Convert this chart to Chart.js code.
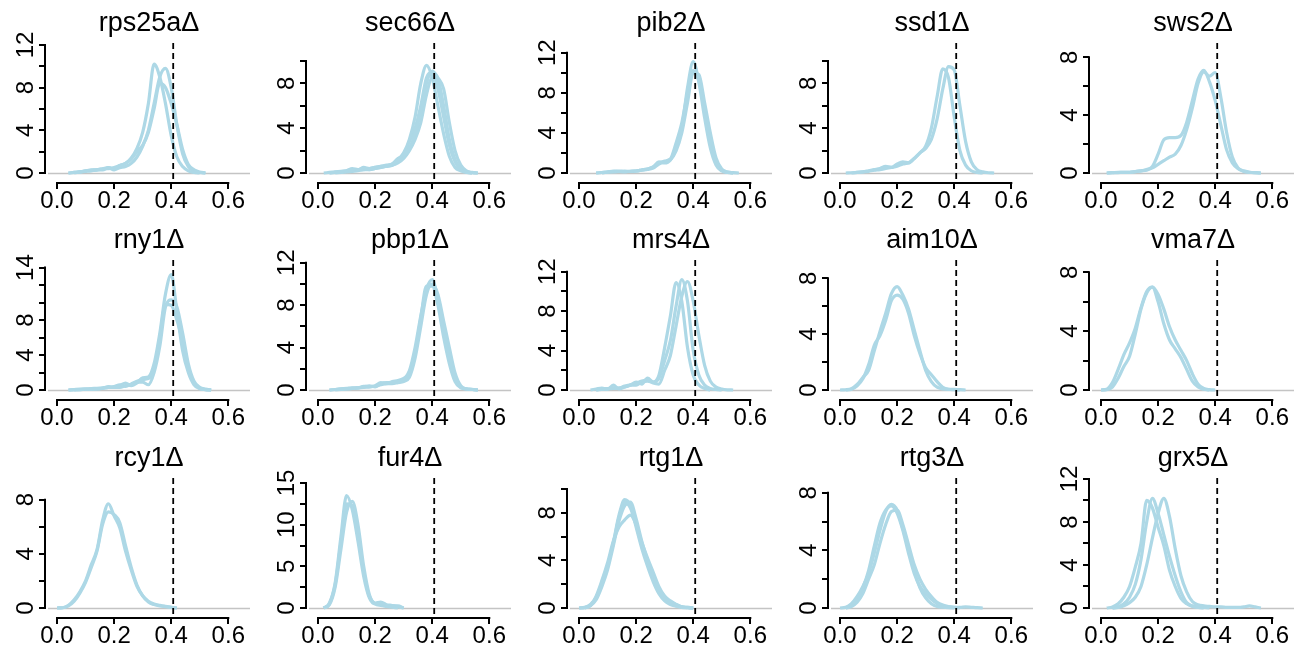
<!DOCTYPE html>
<html>
<head>
<meta charset="utf-8">
<script src="https://cdn.jsdelivr.net/npm/chart.js@4.4.1/dist/chart.umd.min.js"></script>
<style>
  html, body { margin: 0; padding: 0; background: #fff; overflow: hidden; }
  #wrap { position: relative; width: 1294px; height: 649px; }
  #wrap canvas { position: absolute; }
</style>
</head>
<body>
<div id="wrap"></div>
<script>
// panel names (deletion strains), row by row
const genes = ['rps25a', 'sec66', 'pib2', 'ssd1', 'sws2',
               'rny1', 'pbp1', 'mrs4', 'aim10', 'vma7',
               'rcy1', 'fur4', 'rtg1', 'rtg3', 'grx5'];

// density evaluated every 0.02 from 0.00 to 0.56
const xGrid = [0, 0.02, 0.04, 0.06, 0.08, 0.10, 0.12, 0.14, 0.16, 0.18, 0.20, 0.22, 0.24, 0.26,
               0.28, 0.30, 0.32, 0.34, 0.36, 0.38, 0.40, 0.42, 0.44, 0.46, 0.48, 0.50, 0.52, 0.54, 0.56];

const cutoff = 0.407;
const xTicks = [0, 0.2, 0.4, 0.6];

// y axis per panel
const yTop = [12.18, 11.6, 12.96, 11.6, 8.99, 14.87, 12.26, 13.18, 9.31, 8.84, 9.6, 15.6, 10.92, 9.03, 12.09];
const yTickMax = [12, 10, 12, 10, 8, 14, 12, 12, 8, 8, 8, 15, 10, 8, 12];
const yTickStep = [2, 2, 2, 2, 2, 2, 2, 2, 2, 2, 2, 2.5, 2, 2, 2];
const yLabels = [[0, 4, 8, 12], [0, 4, 8], [0, 4, 8, 12], [0, 4, 8], [0, 4, 8],
                 [0, 4, 8, 14], [0, 4, 8, 12], [0, 4, 8, 12], [0, 4, 8], [0, 4, 8],
                 [0, 4, 8], [0, 5, 10, 15], [0, 4, 8], [0, 4, 8], [0, 4, 8, 12]];

// replicate density curves, one array per replicate
const rps25a = [
  [null, null, 0, 0.05, 0.1, 0.2, 0.3, 0.3, 0.4, 0.5, 0.4, 0.7, 0.9, 1.4, 2.3, 3.8, 6.5, 10.2, 9.0, 6.5, 3.5, 1.5, 0.6, 0.2, 0.05, 0],
  [null, null, 0, 0.05, 0.1, 0.15, 0.2, 0.3, 0.3, 0.5, 0.3, 0.5, 0.6, 0.9, 1.5, 2.5, 4.0, 6.5, 9.0, 9.8, 8.0, 4.5, 1.8, 0.6, 0.2, 0.05, 0],
  [null, null, null, 0, 0.1, 0.2, 0.25, 0.3, 0.4, 0.4, 0.5, 0.7, 0.9, 1.3, 2.0, 2.6, 3.8, 6.0, 8.4, 8.0, 6.5, 4.5, 2.2, 0.8, 0.3, 0.1, 0]
];
const sec66 = [
  [null, 0, 0.05, 0.1, 0.15, 0.2, 0.4, 0.3, 0.5, 0.4, 0.5, 0.6, 0.7, 0.8, 1.2, 1.8, 3.0, 5.0, 8.0, 9.6, 8.5, 6.0, 3.5, 1.5, 0.5, 0.2, 0.05, 0],
  [null, null, 0, 0.05, 0.1, 0.15, 0.2, 0.3, 0.4, 0.3, 0.4, 0.5, 0.6, 0.7, 1.0, 1.5, 2.2, 3.5, 5.5, 8.0, 9.1, 8.5, 7.5, 4.5, 2.0, 0.7, 0.2, 0.05, 0],
  [null, null, 0, 0.05, 0.1, 0.2, 0.3, 0.3, 0.3, 0.4, 0.5, 0.6, 0.6, 0.8, 1.3, 1.6, 2.8, 4.0, 6.0, 8.5, 9.0, 7.5, 5.0, 2.5, 1.0, 0.3, 0.1, 0],
  [null, null, null, 0, 0.05, 0.1, 0.15, 0.2, 0.3, 0.3, 0.4, 0.5, 0.6, 0.7, 0.9, 1.3, 2.0, 3.0, 4.5, 7.0, 8.5, 8.3, 6.0, 3.0, 1.2, 0.4, 0.1, 0.03, 0]
];
const pib2 = [
  [null, null, null, 0, 0.05, 0.1, 0.2, 0.15, 0.1, 0.2, 0.2, 0.3, 0.4, 0.6, 1.1, 1.0, 1.3, 2.5, 4.5, 8.5, 11.1, 9.0, 5.5, 2.5, 0.8, 0.2, 0.05, 0],
  [null, null, null, null, 0, 0.1, 0.15, 0.2, 0.15, 0.15, 0.2, 0.3, 0.4, 0.6, 1.0, 1.2, 1.4, 3.0, 5.0, 8.0, 10.2, 9.2, 6.5, 3.5, 1.2, 0.3, 0.1, 0],
  [null, null, null, 0, 0.05, 0.1, 0.1, 0.15, 0.2, 0.15, 0.2, 0.3, 0.35, 0.5, 0.9, 1.1, 1.3, 2.2, 4.0, 7.0, 10.0, 9.8, 7.0, 4.0, 1.5, 0.4, 0.1, 0.03, 0]
];
const ssd1 = [
  [null, 0, 0.02, 0.05, 0.1, 0.2, 0.3, 0.4, 0.6, 0.5, 0.8, 1.0, 0.9, 1.3, 1.8, 2.4, 4.0, 6.8, 9.3, 8.5, 5.0, 2.0, 0.7, 0.2, 0.05, 0],
  [null, null, 0, 0.05, 0.1, 0.15, 0.25, 0.3, 0.4, 0.5, 0.6, 0.8, 0.9, 1.3, 1.8, 2.2, 3.0, 4.8, 7.5, 9.5, 9.2, 6.0, 2.8, 1.0, 0.3, 0.1, 0.02, 0]
];
const sws2 = [
  [null, 0, 0.02, 0.05, 0.05, 0.05, 0.1, 0.15, 0.25, 0.45, 1.3, 2.3, 2.45, 2.45, 2.6, 3.5, 5.0, 6.5, 7.1, 6.3, 5.0, 3.3, 1.6, 0.7, 0.3, 0.15, 0.05, 0.02, 0],
  [null, 0, 0.02, 0.03, 0.05, 0.05, 0.1, 0.15, 0.2, 0.35, 0.6, 0.85, 1.1, 1.3, 1.9, 3.0, 4.5, 6.2, 7.0, 6.7, 6.95, 5.2, 2.8, 1.1, 0.35, 0.1, 0.05, 0.02, 0]
];
const rny1 = [
  [null, null, 0, 0.05, 0.05, 0.1, 0.1, 0.15, 0.2, 0.3, 0.3, 0.5, 0.8, 0.5, 0.8, 1.4, 1.5, 3.0, 6.5, 11.0, 13.2, 9.0, 4.5, 2.0, 0.6, 0.15, 0.05, 0],
  [null, null, null, 0, 0.05, 0.1, 0.1, 0.1, 0.2, 0.4, 0.3, 0.3, 0.5, 0.6, 0.9, 0.9, 0.6, 2.0, 5.0, 9.5, 10.3, 9.5, 6.5, 3.0, 1.0, 0.3, 0.1, 0],
  [null, null, 0, 0.05, 0.1, 0.1, 0.15, 0.2, 0.25, 0.3, 0.4, 0.6, 0.4, 0.7, 1.0, 1.2, 1.3, 2.5, 6.0, 9.8, 9.7, 8.0, 5.5, 2.5, 0.8, 0.2, 0.05, 0]
];
const pbp1 = [
  [null, null, 0, 0.05, 0.1, 0.15, 0.2, 0.2, 0.3, 0.4, 0.3, 0.6, 0.7, 0.7, 0.8, 1.0, 1.8, 4.0, 7.0, 9.5, 10.4, 8.5, 5.5, 3.2, 1.2, 0.3, 0.1, 0.05, 0],
  [null, null, null, 0, 0.05, 0.1, 0.15, 0.2, 0.25, 0.3, 0.35, 0.5, 0.6, 0.6, 0.7, 0.8, 1.2, 3.0, 6.0, 9.0, 10.0, 9.0, 6.5, 4.0, 1.6, 0.4, 0.1, 0.05, 0],
  [null, null, 0, 0.05, 0.1, 0.1, 0.15, 0.2, 0.35, 0.3, 0.4, 0.7, 0.6, 0.8, 0.9, 1.1, 1.5, 3.5, 6.8, 9.8, 9.8, 8.0, 5.0, 2.5, 0.8, 0.2, 0.1, 0.05, 0]
];
const mrs4 = [
  [null, null, 0, 0.1, 0.2, 0.05, 0.5, 0.1, 0.3, 0.5, 0.8, 0.6, 1.2, 0.8, 1.5, 4.3, 7.5, 10.9, 9.0, 4.3, 1.5, 0.5, 0.15, 0],
  [null, null, null, 0, 0.1, 0.15, 0.2, 0.2, 0.4, 0.5, 0.5, 0.8, 0.9, 0.8, 1.2, 3.0, 5.0, 8.5, 11.2, 9.0, 4.0, 1.5, 0.5, 0.15, 0.05, 0],
  [null, null, null, 0, 0.05, 0.1, 0.15, 0.2, 0.3, 0.5, 0.7, 0.9, 1.0, 0.7, 0.6, 2.0, 3.5, 6.5, 9.5, 11.0, 9.0, 5.5, 2.5, 0.9, 0.3, 0.1, 0.02, 0]
];
const aim10 = [
  [0, 0.02, 0.1, 0.4, 0.9, 1.4, 2.8, 4.2, 5.5, 6.9, 7.4, 6.8, 5.8, 4.3, 2.8, 1.4, 0.6, 0.2, 0.08, 0.05, 0.05, 0.02, 0],
  [null, 0, 0.05, 0.3, 0.8, 1.8, 3.2, 3.9, 5.0, 6.4, 6.8, 6.5, 5.5, 3.9, 2.6, 1.6, 1.1, 0.6, 0.2, 0.05, 0.02, 0]
];
const vma7 = [
  [0, 0.05, 0.5, 1.4, 2.4, 3.2, 4.2, 5.6, 6.7, 7.0, 6.0, 4.5, 3.4, 2.8, 2.2, 1.4, 0.6, 0.2, 0.05, 0],
  [0, 0.02, 0.2, 0.8, 1.6, 2.3, 3.8, 5.5, 6.6, 7.0, 6.5, 5.5, 4.3, 3.4, 2.7, 2.0, 1.1, 0.4, 0.1, 0.02, 0]
];
const rcy1 = [
  [0, 0.02, 0.2, 0.6, 1.2, 2.0, 3.2, 4.3, 6.5, 7.7, 6.8, 5.9, 4.2, 2.8, 1.6, 0.9, 0.5, 0.3, 0.2, 0.12, 0.05, 0],
  [0, 0.02, 0.15, 0.5, 1.1, 1.9, 3.0, 4.2, 6.2, 7.1, 6.9, 6.3, 4.6, 3.0, 1.7, 0.9, 0.45, 0.25, 0.15, 0.1, 0.05, 0]
];
const fur4 = [
  [null, 0, 0.6, 3.0, 8.5, 13.5, 11.8, 8.0, 3.8, 1.2, 0.5, 0.6, 0.3, 0.25, 0.25, 0],
  [null, 0, 0.4, 2.5, 7.0, 11.5, 12.8, 10.0, 5.0, 1.6, 0.6, 0.7, 0.4, 0.3, 0.15, 0],
  [null, 0, 0.5, 2.8, 7.8, 12.5, 12.3, 8.8, 4.3, 1.4, 0.5, 0.3, 0.2, 0.1, 0]
];
const rtg1 = [
  [0, 0.05, 0.3, 0.9, 2.0, 3.5, 5.5, 7.8, 9.1, 8.6, 6.8, 5.0, 3.5, 2.2, 1.2, 0.6, 0.3, 0.15, 0.05, 0.02, 0],
  [null, 0, 0.2, 0.7, 1.8, 3.2, 5.2, 7.3, 8.6, 8.9, 7.5, 5.6, 4.0, 2.6, 1.5, 0.8, 0.5, 0.3, 0.1, 0.05, 0],
  [null, 0, 0.2, 1.0, 2.3, 3.8, 5.6, 6.8, 7.4, 7.8, 7.0, 5.5, 4.2, 3.0, 1.8, 1.0, 0.6, 0.3, 0.1, 0.05, 0],
  [0, 0.03, 0.25, 0.8, 2.1, 3.6, 5.4, 7.6, 8.9, 8.4, 7.0, 5.2, 3.8, 2.4, 1.3, 0.7, 0.4, 0.2, 0.08, 0.03, 0]
];
const rtg3 = [
  [0, 0.05, 0.3, 0.8, 1.5, 2.4, 3.8, 5.4, 6.7, 7.2, 6.8, 5.5, 4.2, 2.6, 1.4, 0.7, 0.3, 0.1, 0.05, 0.02, 0],
  [null, 0, 0.2, 0.6, 1.4, 2.6, 4.3, 5.9, 6.8, 7.1, 6.6, 5.4, 3.8, 2.4, 1.5, 1.0, 0.6, 0.3, 0.15, 0.08, 0.05, 0.05, 0.08, 0.05, 0.02, 0],
  [null, 0, 0.1, 0.4, 1.0, 2.0, 3.0, 4.5, 5.8, 6.7, 6.8, 5.8, 4.4, 3.0, 2.0, 1.3, 0.8, 0.4, 0.2, 0.1, 0.05, 0]
];
const grx5 = [
  [null, 0, 0.1, 0.4, 1.0, 2.0, 3.8, 6.0, 10.0, 9.3, 7.5, 5.8, 3.5, 2.0, 0.9, 0.4, 0.15, 0.05, 0],
  [null, null, 0, 0.1, 0.4, 1.0, 2.2, 4.5, 8.0, 10.2, 8.8, 6.8, 4.8, 3.0, 1.5, 0.5, 0.2, 0.1, 0.05, 0],
  [null, null, 0, 0.05, 0.2, 0.5, 1.0, 2.0, 4.0, 6.5, 8.8, 10.2, 8.5, 5.5, 3.0, 1.5, 0.6, 0.3, 0.2, 0.15, 0.1, 0.1, 0.05, 0.05, 0.05, 0.1, 0.2, 0.1, 0]
];

const curves = [rps25a, sec66, pib2, ssd1, sws2, rny1, pbp1, mrs4, aim10, vma7, rcy1, fur4, rtg1, rtg3, grx5];

const W = 261, H = 217;
const colStep = 261.1;
const rowTop = [0, 217, 435];
const pad = { left: 48, right: 11, top: 43, bottom: 39 };
const fontFam = '"Liberation Sans", Arial, Helvetica, sans-serif';

// R style axes, zero line, cutoff line and panel title
const rAxes = {
  id: 'rAxes',
  beforeDatasetsDraw(chart) {
    const { ctx, chartArea, scales } = chart;
    const y0 = Math.round(scales.y.getPixelForValue(0)) + 0.5;
    ctx.save();
    ctx.strokeStyle = '#c4c4c4';
    ctx.lineWidth = 1.3;
    ctx.beginPath();
    ctx.moveTo(chartArea.left, y0);
    ctx.lineTo(chartArea.right, y0);
    ctx.stroke();
    ctx.restore();
  },
  afterDatasetsDraw(chart, args, opts) {
    const { ctx, chartArea, scales } = chart;
    const x = scales.x, y = scales.y;
    const i = opts.panel;
    ctx.save();

    // cutoff
    const xc = x.getPixelForValue(cutoff);
    ctx.strokeStyle = '#000';
    ctx.lineWidth = 1.8;
    ctx.setLineDash([6, 4]);
    ctx.beginPath();
    ctx.moveTo(xc, chartArea.top);
    ctx.lineTo(xc, chartArea.bottom + 3);
    ctx.stroke();
    ctx.setLineDash([]);

    ctx.lineWidth = 2;
    ctx.fillStyle = '#000';

    // y axis
    const ax = Math.round(x.getPixelForValue(0) - 12.5);
    ctx.beginPath();
    ctx.moveTo(ax, y.getPixelForValue(0) + 1);
    ctx.lineTo(ax, y.getPixelForValue(yTickMax[i]) - 1);
    for (let v = 0; v <= yTickMax[i] + 1e-9; v += yTickStep[i]) {
      const py = Math.round(y.getPixelForValue(v));
      ctx.moveTo(ax, py);
      ctx.lineTo(ax - 6, py);
    }
    ctx.stroke();
    ctx.font = '24px ' + fontFam;
    ctx.textAlign = 'center';
    ctx.textBaseline = 'middle';
    yLabels[i].forEach(v => {
      ctx.save();
      ctx.translate(ax - 20, y.getPixelForValue(v));
      ctx.rotate(-Math.PI / 2);
      ctx.fillText(String(v), 0, 1);
      ctx.restore();
    });

    // x axis
    const ay = Math.round(y.getPixelForValue(0)) + 10;
    ctx.beginPath();
    ctx.moveTo(x.getPixelForValue(0) - 1, ay);
    ctx.lineTo(x.getPixelForValue(0.6) + 1, ay);
    xTicks.forEach(v => {
      const px = Math.round(x.getPixelForValue(v));
      ctx.moveTo(px, ay);
      ctx.lineTo(px, ay + 6);
    });
    ctx.stroke();
    xTicks.forEach(v => {
      ctx.fillText(v.toFixed(1), x.getPixelForValue(v), ay + 18);
    });

    // title
    ctx.font = '27px ' + fontFam;
    ctx.textBaseline = 'alphabetic';
    ctx.fillText(genes[i] + '\u0394', (chartArea.left + chartArea.right) / 2, chartArea.top - 12);
    ctx.restore();
  }
};

const wrap = document.getElementById('wrap');
genes.forEach((g, i) => {
  const col = i % 5, row = Math.floor(i / 5);
  const cv = document.createElement('canvas');
  cv.width = W;
  cv.height = H;
  cv.style.left = (col * colStep) + 'px';
  cv.style.top = rowTop[row] + 'px';
  cv.style.width = W + 'px';
  cv.style.height = H + 'px';
  wrap.appendChild(cv);

  const datasets = curves[i].map(c => ({
    data: c.map((v, k) => ({ x: xGrid[k], y: v })).filter(p => p.y !== null),
    borderColor: '#add8e6',
    borderWidth: 3.2,
    pointRadius: 0,
    fill: false,
    cubicInterpolationMode: 'monotone'
  }));

  new Chart(cv, {
    type: 'line',
    data: { datasets },
    options: {
      responsive: false,
      animation: false,
      devicePixelRatio: 1,
      events: [],
      layout: { padding: pad },
      scales: {
        x: { type: 'linear', min: -0.0316, max: 0.676, display: false },
        y: { type: 'linear', min: -yTop[i] * 5 / 130, max: yTop[i], display: false }
      },
      plugins: {
        legend: { display: false },
        tooltip: { enabled: false },
        rAxes: { panel: i }
      }
    },
    plugins: [rAxes]
  });
});
</script>
</body>
</html>
